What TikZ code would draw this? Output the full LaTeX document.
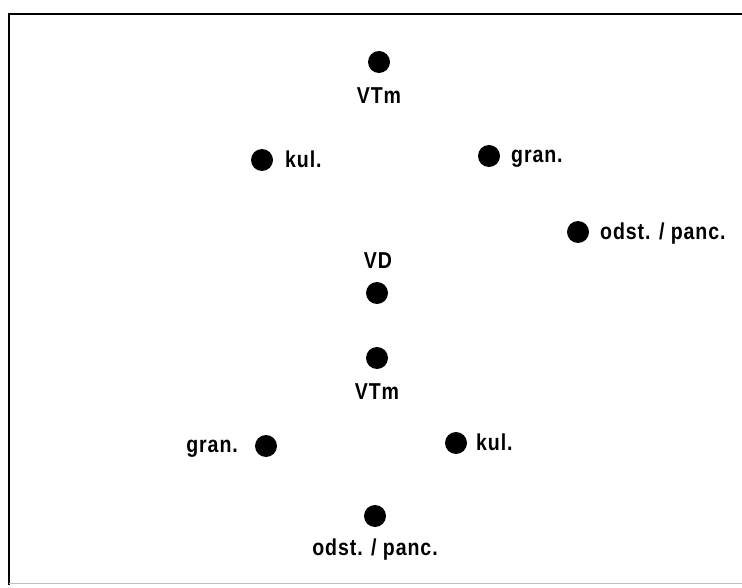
\documentclass[tikz,border=0pt]{standalone}
\usepackage{fontspec}
\setmainfont{Liberation Sans}[FakeStretch=0.85,LetterSpace=4]
\begin{document}
\begin{tikzpicture}[x=1pt,y=-1pt,
  dot/.style={circle,fill=black,inner sep=0pt,minimum size=22pt},
  lbl/.style={font=\fontsize{23}{26}\selectfont\bfseries,inner sep=0pt}]
\useasboundingbox (0,0) rectangle (742,588);
\draw[line width=2.2pt] (9,585) -- (9,14) -- (742,14);
\draw[black!25,line width=1pt] (9,583) -- (742,583);
% top group
\node[dot] (d1) at (379,62) {};
\node[lbl,anchor=base] (t1) at (379,104) {VTm};
\node[dot] (d2) at (262,160) {};
\node[lbl,anchor=base west] (t2) at (285,168) {kul.};
\node[dot] (d3) at (489,156) {};
\node[lbl,anchor=base west] (t3) at (511,163) {gran.};
\node[dot] (d4) at (578,232) {};
\node[lbl,anchor=base west] (t4) at (600,240) {odst. / panc.};
\node[lbl,anchor=base] (t5) at (378,269) {VD};
\node[dot] (d5) at (377,293) {};
% bottom group
\node[dot] (d6) at (377,358) {};
\node[lbl,anchor=base] (t6) at (377,399) {VTm};
\node[dot] (d7) at (266,446) {};
\node[lbl,anchor=base east] (t7) at (238,452) {gran.};
\node[dot] (d8) at (456,443) {};
\node[lbl,anchor=base west] (t8) at (476,450) {kul.};
\node[dot] (d9) at (375,516) {};
\node[lbl,anchor=base] (t9) at (375,555) {odst. / panc.};
\end{tikzpicture}
\end{document}
